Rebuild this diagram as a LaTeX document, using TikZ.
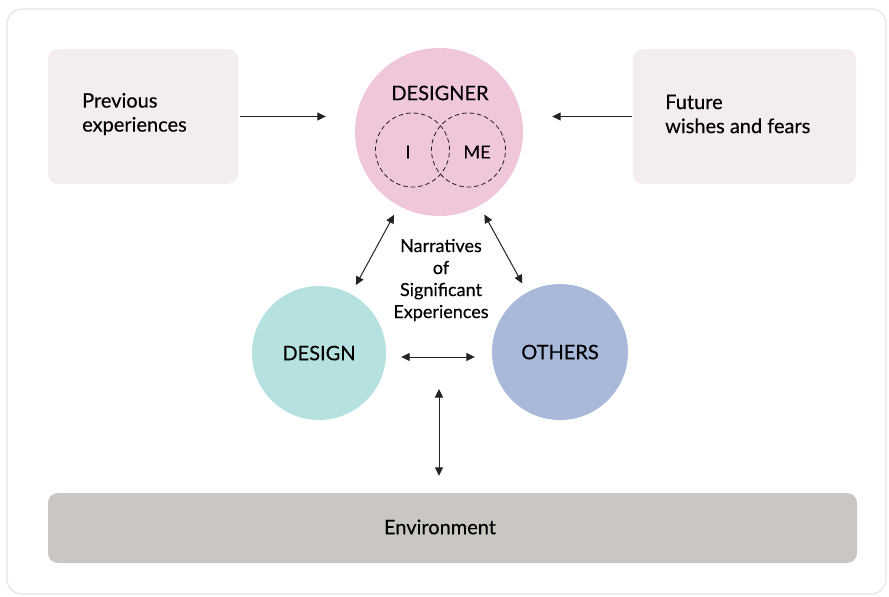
\documentclass[tikz,border=0pt]{standalone}
\usepackage{fontspec}
\setmainfont{Lato}[FakeBold=0.3]
\usepackage{tikz}
\usetikzlibrary{arrows.meta,positioning}
\definecolor{framegray}{HTML}{E4E4E4}
\definecolor{boxpink}{HTML}{F3ECF0}
\definecolor{designerpink}{HTML}{F0C6DB}
\definecolor{designteal}{HTML}{B5E2E0}
\definecolor{othersblue}{HTML}{A8B9DA}
\definecolor{envgray}{HTML}{CAC7C2}
\definecolor{inkdark}{HTML}{222222}

\begin{document}
\begin{tikzpicture}[x=1pt, y=-1pt,
    sidebox/.style={fill=boxpink, rounded corners=10pt, minimum width=190pt, minimum height=135pt},
    bigcircle/.style={circle, inner sep=0pt},
    selfcircle/.style={circle, draw=inkdark, dash pattern=on 4.5pt off 3pt, line width=0.8pt, minimum size=74pt, inner sep=0pt},
    link/.style={{Triangle[length=8.5pt,width=8pt]}-{Triangle[length=8.5pt,width=8pt]}, line width=1pt, color=inkdark},
    oneway/.style={-{Triangle[length=8.5pt,width=8pt]}, line width=1pt, color=inkdark},
    lbl/.style={font=\fontsize{20}{24}\selectfont, align=left, inner sep=0pt, text=black},
    caps/.style={font=\fontsize{20}{22}\selectfont}]
    \useasboundingbox (0,0) rectangle (889,597);

    % Outer frame
    \draw[framegray, line width=1.2pt, rounded corners=15pt] (7,9) rectangle (886,594);

    % Side boxes
    \node[sidebox] (prev) at (143,116.5) {};
    \node[lbl, anchor=west] (prevtext) at (82,114) {Previous\\experiences};
    \node[sidebox, minimum width=223pt] (future) at (744.5,116.5) {};
    \node[lbl, anchor=west] (futuretext) at (665,114) {Future\\wishes and fears};

    % Main circles
    \node[bigcircle, fill=designerpink, minimum size=168pt] (designer) at (439,132) {};
    \node[caps] (designerlbl) at (440,93) {DESIGNER};
    \node[selfcircle] (selfI) at (412.5,150) {};
    \node[selfcircle] (selfME) at (468.5,150) {};
    \node[caps, font=\fontsize{18}{20}\selectfont] (ilbl) at (408,152) {I};
    \node[caps, font=\fontsize{18}{20}\selectfont] (melbl) at (477,152) {ME};

    \node[bigcircle, fill=designteal, minimum size=134pt, caps, text depth=-3pt] (design) at (319,353) {DESIGN};
    \node[bigcircle, fill=othersblue, minimum size=136pt, caps, text depth=-2pt] (others) at (560,352) {OTHERS};

    % Centre label
    \node[align=center, font=\fontsize{18}{22}\selectfont] (narr) at (441,280) {Narratives\\of\\Significant\\Experiences};

    % Environment bar
    \node[fill=envgray, rounded corners=10pt, minimum width=809pt, minimum height=70pt] (env) at (452.5,528) {};
    \node[caps] (envlbl) at (440,527) {Environment};
    \coordinate (envtop) at (439,389);

    % Arrows
    \draw[oneway, shorten <=2pt, shorten >=29pt] (prev.east) -- (prev.east -| designer.west);
    \draw[oneway, shorten <=1pt, shorten >=29pt] (future.west) -- (future.west -| designer.east);
    \draw[link, shorten <=10pt, shorten >=10pt] (designer) -- (design);
    \draw[link, shorten <=10pt, shorten >=10pt] (designer) -- (others);
    \draw[link, shorten <=15pt, shorten >=17pt] ([yshift=-4pt]design.east) -- ([yshift=-4pt]design.east -| others.west);
    \draw[link, shorten >=17pt] (envtop) -- (envtop |- env.north);
\end{tikzpicture}
\end{document}
